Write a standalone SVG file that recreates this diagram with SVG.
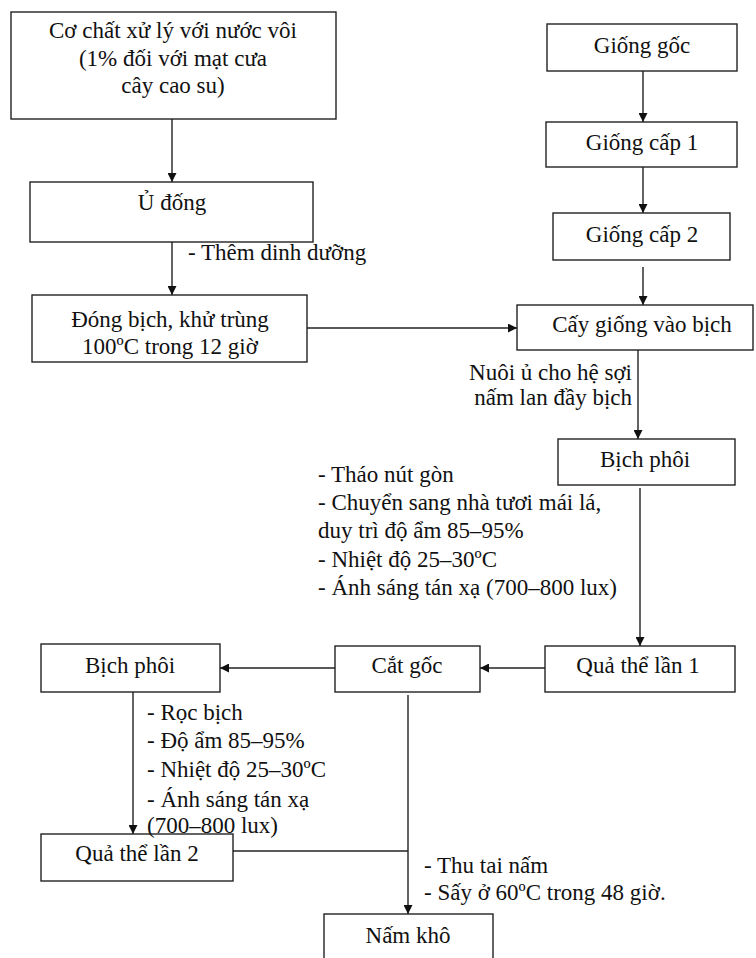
<svg xmlns="http://www.w3.org/2000/svg" width="756" height="958" viewBox="0 0 756 958">
<defs>
<marker id="ah" viewBox="0 0 10 10" refX="10" refY="5" markerWidth="9" markerHeight="9" markerUnits="userSpaceOnUse" orient="auto">
<path d="M0,0 L10,5 L0,10 z" fill="#111"/>
</marker>
<style>
rect{fill:#fff;stroke:#222;stroke-width:1.4}
text{fill:#111}
.c{text-anchor:middle}
.e{text-anchor:end}
#connectors line{stroke:#222;stroke-width:1.4;fill:none}
.a{marker-end:url(#ah)}
</style>
</defs>
<rect x="0" y="0" width="756" height="958" style="stroke:none"/>
<g id="connectors">
<line class="a" x1="172" y1="119" x2="172" y2="182"/>
<line class="a" x1="172" y1="242" x2="172" y2="295"/>
<line class="a" x1="307" y1="328" x2="517" y2="328"/>
<line class="a" x1="643" y1="71" x2="643" y2="122"/>
<line class="a" x1="643" y1="167" x2="643" y2="213"/>
<line class="a" x1="643" y1="267" x2="643" y2="305"/>
<line class="a" x1="638" y1="350" x2="638" y2="439"/>
<line class="a" x1="640" y1="488" x2="640" y2="646"/>
<line class="a" x1="545" y1="668" x2="480" y2="668"/>
<line class="a" x1="335" y1="668" x2="220" y2="668"/>
<line class="a" x1="133" y1="692" x2="133" y2="834"/>
<line class="a" x1="408" y1="695" x2="408" y2="914"/>
<line x1="233" y1="851" x2="408" y2="851"/>
</g>
<g id="n1"><rect x="11" y="12" width="325" height="107"/>
<text class="c" x="173" y="38" font-family="Liberation Serif" font-size="23">Cơ chất xử lý với nước vôi</text>
<text class="c" x="173" y="66" font-family="Liberation Serif" font-size="23">(1% đối với mạt cưa</text>
<text class="c" x="173" y="93" font-family="Liberation Serif" font-size="23">cây cao su)</text></g>
<g id="n2"><rect x="30" y="182" width="283" height="60"/>
<text class="c" x="172" y="210" font-family="Liberation Serif" font-size="23">Ủ đống</text></g>
<g id="n3"><rect x="32" y="295" width="275" height="67"/>
<text class="c" x="170" y="327" font-family="Liberation Serif" font-size="23">Đóng bịch, khử trùng</text>
<text class="c" x="170" y="354" font-family="Liberation Serif" font-size="23">100ºC trong 12 giờ</text></g>
<g id="n4"><rect x="547" y="24" width="190" height="47"/>
<text class="c" x="642" y="53" font-family="Liberation Serif" font-size="23">Giống gốc</text></g>
<g id="n5"><rect x="546" y="122" width="191" height="45"/>
<text class="c" x="642" y="150" font-family="Liberation Serif" font-size="23">Giống cấp 1</text></g>
<g id="n6"><rect x="553" y="213" width="177" height="47"/>
<text class="c" x="642" y="242" font-family="Liberation Serif" font-size="23">Giống cấp 2</text></g>
<g id="n7"><rect x="517" y="305" width="236" height="45"/>
<text class="c" x="642" y="332" font-family="Liberation Serif" font-size="23">Cấy giống vào bịch</text></g>
<g id="n8"><rect x="558" y="439" width="177" height="46"/>
<text class="c" x="645" y="467" font-family="Liberation Serif" font-size="23">Bịch phôi</text></g>
<g id="n9"><rect x="545" y="646" width="190" height="46"/>
<text class="c" x="638" y="673" font-family="Liberation Serif" font-size="23">Quả thể lần 1</text></g>
<g id="n10"><rect x="335" y="646" width="145" height="46"/>
<text class="c" x="407" y="673" font-family="Liberation Serif" font-size="23">Cắt gốc</text></g>
<g id="n11"><rect x="41" y="644" width="179" height="48"/>
<text class="c" x="130" y="673" font-family="Liberation Serif" font-size="23">Bịch phôi</text></g>
<g id="n12"><rect x="41" y="834" width="192" height="47"/>
<text class="c" x="137" y="861" font-family="Liberation Serif" font-size="23">Quả thể lần 2</text></g>
<g id="n13"><rect x="324" y="914" width="169" height="60"/>
<text class="c" x="408" y="943" font-family="Liberation Serif" font-size="23">Nấm khô</text></g>
<g id="labels">
<text x="188" y="260" font-family="Liberation Serif" font-size="23">- Thêm dinh dưỡng</text>
<text class="e" x="632" y="380" font-family="Liberation Serif" font-size="23">Nuôi ủ cho hệ sợi</text>
<text class="e" x="632" y="405" font-family="Liberation Serif" font-size="23">nấm lan đầy bịch</text>
<text x="318" y="482" font-family="Liberation Serif" font-size="23">- Tháo nút gòn</text>
<text x="318" y="510" font-family="Liberation Serif" font-size="23">- Chuyển sang nhà tươi mái lá,</text>
<text x="318" y="538" font-family="Liberation Serif" font-size="23">duy trì độ ẩm 85–95%</text>
<text x="318" y="567" font-family="Liberation Serif" font-size="23">- Nhiệt độ 25–30ºC</text>
<text x="318" y="595" font-family="Liberation Serif" font-size="23">- Ánh sáng tán xạ (700–800 lux)</text>
<text x="147" y="720" font-family="Liberation Serif" font-size="23">- Rọc bịch</text>
<text x="147" y="748" font-family="Liberation Serif" font-size="23">- Độ ẩm 85–95%</text>
<text x="147" y="777" font-family="Liberation Serif" font-size="23">- Nhiệt độ 25–30ºC</text>
<text x="147" y="807" font-family="Liberation Serif" font-size="23">- Ánh sáng tán xạ</text>
<text x="147" y="833" font-family="Liberation Serif" font-size="23">(700–800 lux)</text>
<text x="424" y="873" font-family="Liberation Serif" font-size="23">- Thu tai nấm</text>
<text x="424" y="900" font-family="Liberation Serif" font-size="23">- Sấy ở 60ºC trong 48 giờ.</text>
</g>
</svg>
